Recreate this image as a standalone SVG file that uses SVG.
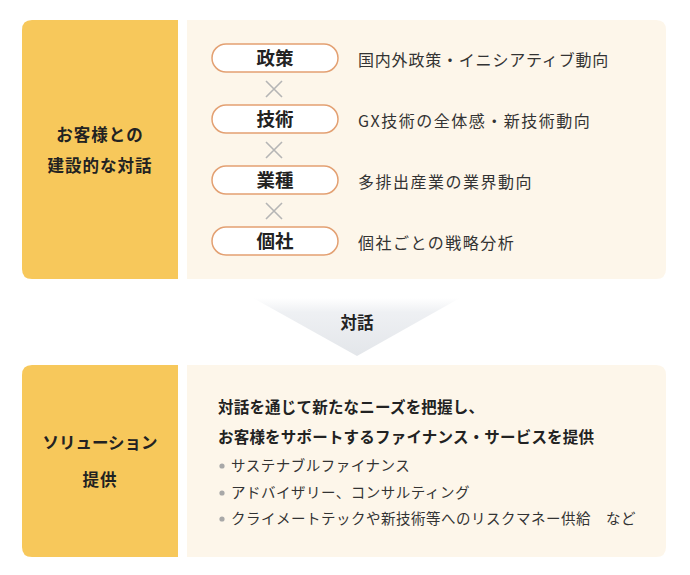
<svg xmlns="http://www.w3.org/2000/svg" width="690" height="575" viewBox="0 0 690 575">
<defs>
<linearGradient id="arrowGrad" x1="0" y1="0" x2="0" y2="1">
<stop offset="0" stop-color="#ffffff"/>
<stop offset="0.25" stop-color="#eef0f3"/>
<stop offset="1" stop-color="#e3e6ea"/>
</linearGradient>
<style>
text{font-family:"Noto Sans CJK JP","Noto Sans",sans-serif;fill:#222}
.yel{fill:#f7c85b}
.cream{fill:#fdf6ea}
.pill{fill:#ffffff;stroke:#e3a072;stroke-width:1.5}
.pt{font-size:18.5px;font-weight:bold;text-anchor:middle}
.lt{font-size:16.5px;font-weight:bold;text-anchor:middle;letter-spacing:1px}
.rt{font-size:16px;letter-spacing:1.5px;fill:#333}
.bt{font-size:15.5px;font-weight:bold;letter-spacing:0.2px}
.li{font-size:14.5px;letter-spacing:0.5px;fill:#333}
.x{stroke:#b5b5b5;stroke-width:1.6}
.dot{fill:#a8a8a8}
</style>
</defs>

<g id="top-left">
<path class="yel" d="M32,20 H178 V279 H32 Q22,279 22,269 V30 Q22,20 32,20 Z"/>
<text class="lt" x="100" y="141">お客様との</text>
<text class="lt" x="100" y="172">建設的な対話</text>
</g>

<g id="top-right">
<path class="cream" d="M187,20 H656 Q666,20 666,30 V269 Q666,279 656,279 H187 Z"/>
</g>

<g id="pill-policy">
<rect class="pill" x="212" y="44" width="126" height="28" rx="14"/>
<text class="pt" x="275" y="64.5">政策</text>
<text class="rt" x="358" y="66" style="letter-spacing:0.8px">国内外政策・イニシアティブ動向</text>
</g>
<g id="pill-tech">
<rect class="pill" x="212" y="105" width="126" height="28" rx="14"/>
<text class="pt" x="275" y="125.5">技術</text>
<text class="rt" x="358" y="127">GX技術の全体感・新技術動向</text>
</g>
<g id="pill-industry">
<rect class="pill" x="212" y="166" width="126" height="28" rx="14"/>
<text class="pt" x="275" y="186.5">業種</text>
<text class="rt" x="358" y="188">多排出産業の業界動向</text>
</g>
<g id="pill-company">
<rect class="pill" x="212" y="227" width="126" height="28" rx="14"/>
<text class="pt" x="275" y="247.5">個社</text>
<text class="rt" x="358" y="249">個社ごとの戦略分析</text>
</g>

<g id="connectors">
<path class="x" d="M266,81 L282,97 M282,81 L266,97"/>
<path class="x" d="M266,142 L282,158 M282,142 L266,158"/>
<path class="x" d="M266,203 L282,219 M282,203 L266,219"/>
</g>

<g id="arrow">
<path d="M253,298 H460 L357,356 Z" fill="url(#arrowGrad)"/>
<text x="357" y="329" style="font-size:16.5px;font-weight:bold;text-anchor:middle">対話</text>
</g>

<g id="bottom-left">
<path class="yel" d="M32,365 H178 V557 H32 Q22,557 22,547 V375 Q22,365 32,365 Z"/>
<text class="lt" x="100" y="449" style="letter-spacing:0">ソリューション</text>
<text class="lt" x="100" y="486">提供</text>
</g>

<g id="bottom-right">
<path class="cream" d="M187,365 H656 Q666,365 666,375 V547 Q666,557 656,557 H187 Z"/>
<text class="bt" x="218" y="413">対話を通じて新たなニーズを把握し、</text>
<text class="bt" x="218" y="443">お客様をサポートするファイナンス・サービスを提供</text>
<circle class="dot" cx="222" cy="466" r="2.6"/>
<text class="li" x="231" y="471">サステナブルファイナンス</text>
<circle class="dot" cx="222" cy="493" r="2.6"/>
<text class="li" x="231" y="498">アドバイザリー、コンサルティング</text>
<circle class="dot" cx="222" cy="519" r="2.6"/>
<text class="li" x="231" y="524">クライメートテックや新技術等へのリスクマネー供給　など</text>
</g>
</svg>
